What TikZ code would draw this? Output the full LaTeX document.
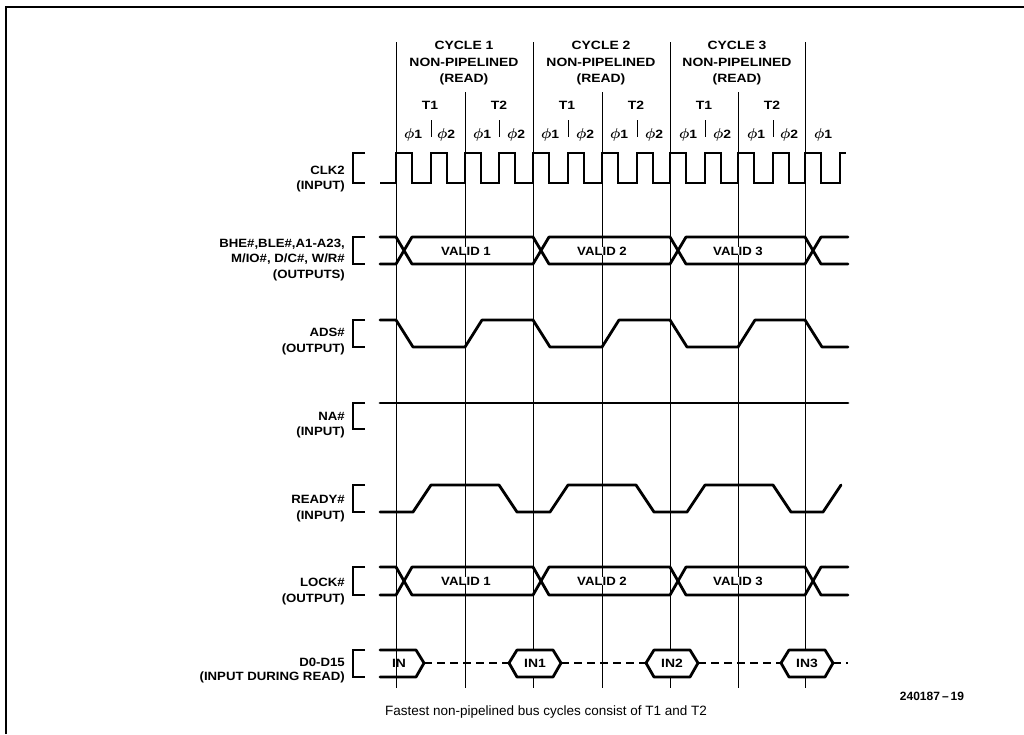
\documentclass[tikz,border=0pt]{standalone}
\usepackage{fontspec}
\newfontfamily\lbl{Liberation Sans}[FakeStretch=1.1]
\newfontfamily\hlbl{Liberation Sans}[FakeStretch=1.16]
\newfontfamily\capfont{Liberation Sans}
\begin{document}
\begin{tikzpicture}[x=1pt,y=-1pt,
  sig/.style={line width=2.8pt,line join=round,line cap=round},
  clk/.style={line width=2.2pt,line join=miter},
  grid/.style={line width=1pt},
  brk/.style={line width=2.2pt},
  lab/.style={font=\lbl\bfseries\fontsize{12}{14}\selectfont,anchor=east,inner sep=0pt},
  hdr/.style={font=\hlbl\bfseries\fontsize{12}{14}\selectfont,inner sep=0pt},
  txt/.style={font=\lbl\bfseries\fontsize{12}{14}\selectfont,inner sep=0pt,fill=white,inner xsep=1pt}]
\useasboundingbox (0,0) rectangle (1024,734);
% frame
\draw[line width=1.5pt] (6,734) -- (6,7) -- (1024,7);
% grid lines
\foreach \c in {396,533,670,805} \draw[grid] (\c,42) -- (\c,688);
\foreach \t in {465,602,738} \draw[grid] (\t,92) -- (\t,688);
\foreach \p in {431,499,568,637,705,773} \draw[grid] (\p,120) -- (\p,137);
% header
\foreach \n/\x in {1/464,2/601,3/737} {
  \node[hdr] (cyc\n) at (\x,45) {CYCLE \n};
  \node[hdr] (np\n) at (\x,62) {NON-PIPELINED};
  \node[hdr] (rd\n) at (\x,79) {(READ)};
}
\foreach \n/\x/\s in {a/430/1,b/499/2,c/567/1,d/636/2,e/704/1,f/772/2}
  \node[hdr] (tt\n) at (\x,105) {T\s};
\foreach \x/\k [count=\i] in {413/1,446/2,482/1,516/2,550/1,585/2,619/1,654/2,688/1,722/2,756/1,789/2,823/1}
  \node[hdr] (ph\i) at (\x,135) {{\fontsize{14}{14}\selectfont\boldmath$\phi$}\k};
% labels and brackets
\node[lab] (l1a) at (345,170) {CLK2};
\node[lab] (l1b) at (345,186) {(INPUT)};
\node[lab] (l2a) at (345,244) {BHE\#,BLE\#,A1-A23,};
\node[lab] (l2b) at (345,259) {M/IO\#, D/C\#, W/R\#};
\node[lab] (l2c) at (345,275) {(OUTPUTS)};
\node[lab] (l3a) at (345,332) {ADS\#};
\node[lab] (l3b) at (345,349) {(OUTPUT)};
\node[lab] (l4a) at (345,416) {NA\#};
\node[lab] (l4b) at (345,432) {(INPUT)};
\node[lab] (l5a) at (345,499) {READY\#};
\node[lab] (l5b) at (345,516) {(INPUT)};
\node[lab] (l6a) at (345,582) {LOCK\#};
\node[lab] (l6b) at (345,599) {(OUTPUT)};
\node[lab] (l7a) at (345,662) {D0-D15};
\node[lab] (l7b) at (345,677) {(INPUT DURING READ)};
\foreach \a/\b in {153/183,237/264,320/347,403/429,485/512,567/595,650/677}
  \draw[brk] (365,\a) -- (353,\a) -- (353,\b) -- (365,\b);
% CLK2
\draw[clk] (380,183)
  \foreach \r in {396,431,465,499,533,568,602,637,670,705,738,773,805} { -- (\r,183) -- (\r,153) -- (\r+16,153) -- (\r+16,183) }
  -- (840,183) -- (840,153) -- (846,153);
% address bus
\draw[sig] (380,237) -- (396,237) -- (412,264) -- (533,264) -- (549,237) -- (670,237) -- (686,264) -- (805,264) -- (821,237) -- (848,237);
\draw[sig] (380,264) -- (396,264) -- (412,237) -- (533,237) -- (549,264) -- (670,264) -- (686,237) -- (805,237) -- (821,264) -- (848,264);
\node[txt] (va1) at (466,251) {VALID 1};
\node[txt] (va2) at (602,251) {VALID 2};
\node[txt] (va3) at (738,251) {VALID 3};
% ADS#
\draw[sig] (380,320) -- (396,320) -- (413,347) -- (465,347) -- (482,320) -- (533,320) -- (550,347) -- (602,347) -- (619,320) -- (670,320) -- (687,347) -- (738,347) -- (755,320) -- (805,320) -- (822,347) -- (848,347);
% NA#
\draw[sig] (380,403) -- (848,403);
% READY#
\draw[sig] (380,512) -- (413,512) -- (431,485) -- (499,485) -- (517,512) -- (550,512) -- (568,485) -- (636,485) -- (654,512) -- (687,512) -- (705,485) -- (773,485) -- (791,512) -- (823,512) -- (841,485);
% LOCK#
\draw[sig] (380,567) -- (396,567) -- (412,595) -- (533,595) -- (549,567) -- (670,567) -- (686,595) -- (805,595) -- (821,567) -- (848,567);
\draw[sig] (380,595) -- (396,595) -- (412,567) -- (533,567) -- (549,595) -- (670,595) -- (686,567) -- (805,567) -- (821,595) -- (848,595);
\node[txt] (vl1) at (466,581) {VALID 1};
\node[txt] (vl2) at (602,581) {VALID 2};
\node[txt] (vl3) at (738,581) {VALID 3};
% D0-D15
\draw[sig] (380,650) -- (416,650) -- (424,663) -- (416,677) -- (380,677);
\foreach \c in {533,670,805}
  \draw[sig,fill=white] (\c-24,663) -- (\c-16,650) -- (\c+20,650) -- (\c+28,663) -- (\c+20,677) -- (\c-16,677) -- cycle;
\foreach \a/\b in {424/509,561/646,698/781,833/848}
  \draw[line width=2.8pt,dash pattern=on 8pt off 5pt] (\a,663) -- (\b,663);
\node[hdr] (d0) at (399,663) {IN};
\node[hdr] (d1) at (535,663) {IN1};
\node[hdr] (d2) at (672,663) {IN2};
\node[hdr] (d3) at (807,663) {IN3};
% caption
\node[font=\capfont\bfseries\fontsize{12}{14}\selectfont] (id) at (932,696) {240187\,\textendash\,19};
\node[font=\capfont\fontsize{13.5}{16}\selectfont] (cap) at (546,712) {Fastest non-pipelined bus cycles consist of T1 and T2};
\end{tikzpicture}
\end{document}
